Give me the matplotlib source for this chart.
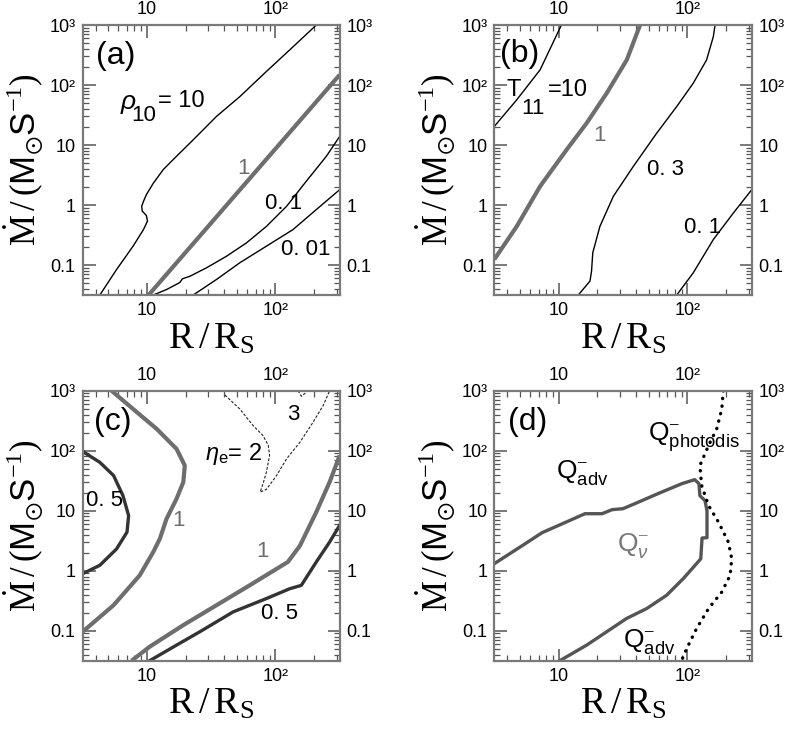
import matplotlib
matplotlib.use("Agg")
import matplotlib.pyplot as plt
from matplotlib.ticker import FixedLocator, FixedFormatter, LogLocator, NullFormatter

plt.rcParams['font.family'] = ['Liberation Sans', 'DejaVu Sans']
plt.rcParams['mathtext.fontset'] = 'custom'
plt.rcParams['mathtext.rm'] = 'Liberation Serif'
plt.rcParams['mathtext.sf'] = 'Liberation Sans'
plt.rcParams['mathtext.it'] = 'Liberation Sans:italic'
plt.rcParams['mathtext.bf'] = 'Liberation Sans:bold'
plt.rcParams['mathtext.fallback'] = 'stix'

# ---------------- data (R/R_S , Mdot) ----------------
XLIM = (10**0.5, 10**2.5)
YLIM = (10**-1.5, 1e3)
xtick_vals = [10, 100]
xtick_labels = ['10', '10²']
ytick_vals = [0.1, 1, 10, 100, 1000]
ytick_labels = ['0.1', '1', '10', '10²', '10³']

# panel (a): density rho_10
a_rho10_x = [4.3, 5.8, 7.8, 9.4, 10.1, 9.9, 9.2, 9.1, 9.4, 9.9, 11.2, 13.4, 17.0, 22.9, 34.8, 52.8, 85, 129, 208]
a_rho10_y = [0.0316, 0.084, 0.206, 0.39, 0.54, 0.67, 0.79, 0.95, 1.15, 1.49, 2.3, 3.9, 6.5, 12.2, 30, 64, 168, 384, 1000]
a_rho1_x = [10.3, 316]
a_rho1_y = [0.0316, 148]
a_rho01_x = [11.2, 14.2, 18.0, 18.9, 21.6, 29.1, 41.6, 59.5, 85, 122, 174, 249, 316]
a_rho01_y = [0.0316, 0.039, 0.051, 0.059, 0.065, 0.090, 0.14, 0.234, 0.44, 0.95, 2.5, 6.5, 13.9]
a_rho001_x = [22.9, 34.8, 52.8, 85, 137, 208, 316]
a_rho001_y = [0.0316, 0.0575, 0.109, 0.206, 0.39, 0.84, 1.8]

# panel (b): temperature T_11
b_T10_x = [3.16, 4.72, 7.17, 10.5]
b_T10_y = [20.4, 56.6, 179, 1000]
b_T1_x = [3.16, 4.72, 7.17, 11.5, 16.5, 23.6, 33.8, 42.9]
b_T1_y = [0.124, 0.44, 2.05, 8.3, 23.2, 73, 262, 1000]
b_T03_x = [14.2, 17.5, 18.0, 18.4, 20.9, 26.6, 38.0, 57.8, 82.6, 111, 141, 159, 164]
b_T03_y = [0.0316, 0.054, 0.079, 0.16, 0.44, 1.4, 4.4, 15.8, 43.8, 107, 262, 640, 1000]
b_T01_x = [82.6, 111, 159, 228, 316]
b_T01_y = [0.0316, 0.074, 0.266, 0.74, 1.8]

# panel (c): degeneracy eta_e
c_eta05u_x = [3.16, 4.3, 5.5, 6.5, 7.2, 7.0, 5.8, 4.3, 3.16]
c_eta05u_y = [97, 64, 38.5, 17.9, 8.3, 4.4, 2.3, 1.23, 0.89]
c_eta1u_x = [5.3, 7.8, 11.9, 17.0, 19.7, 19.2, 17.0, 14.2, 12.6, 11.2, 8.8, 5.5, 3.16]
c_eta1u_y = [1000, 495, 231, 107, 56.6, 30, 15.8, 7.3, 3.4, 2.05, 0.84, 0.266, 0.096]
c_eta1l_x = [7.6, 10.5, 19.2, 34.8, 63, 125, 155, 208, 264, 316]
c_eta1l_y = [0.0316, 0.054, 0.124, 0.266, 0.57, 1.4, 2.6, 9.5, 30, 83]
c_eta05l_x = [10.5, 17.0, 25.8, 46.9, 85, 129, 159, 208, 264, 316]
c_eta05l_y = [0.0316, 0.0575, 0.096, 0.206, 0.343, 0.50, 0.57, 1.4, 3.0, 5.7]
c_eta2_x = [40.4, 52.8, 67, 80, 88, 90, 85, 80, 76, 85, 102, 122, 155, 196, 235, 264]
c_eta2_y = [847, 495, 262, 179, 122, 83, 43.8, 28, 20.4, 22.6, 38.5, 73, 138, 297, 564, 1000]
c_eta3_x = [150, 159, 171, 174]
c_eta3_y = [1000, 805, 915, 1000]

# panel (d): dominant cooling regions
d_region_x = [3.16, 5.19, 7.43, 11.5, 16.0, 21.7, 26.0, 31.6, 39.1, 59, 90.6, 114, 123, 125, 137, 142,
              142, 130, 127, 114, 93, 69, 48.3, 33.7, 23.6, 16.5, 10.2]
d_region_y = [1.31, 2.6, 4.3, 6.5, 8.9, 8.9, 10.4, 10.8, 13.1, 19.2, 28.2, 32.9, 28.2, 17.8, 14.7, 10,
              3.55, 3.5, 1.58, 1.21, 0.74, 0.39, 0.234, 0.16, 0.096, 0.0575, 0.0316]
d_photo_x = [190, 185, 169, 146, 125, 129, 146, 174, 208, 221, 215, 185, 146, 118, 99, 90]
d_photo_y = [1000, 495, 231, 122, 56.6, 26.3, 12.2, 6.5, 3.0, 1.59, 0.84, 0.44, 0.234, 0.109, 0.051, 0.0316]

# ---------------- styling helpers ----------------
THIN = dict(color='black', lw=1.0)
GRAY = dict(color='#6e6e6e', lw=3.0, solid_capstyle='butt')
DARK = dict(color='#333333', lw=2.4)
LBL = 16


def style(ax, letter, lx, ly):
    ax.set_xscale('log')
    ax.set_yscale('log')
    ax.set_xlim(*XLIM)
    ax.set_ylim(*YLIM)
    ax.xaxis.set_major_locator(FixedLocator(xtick_vals))
    ax.xaxis.set_major_formatter(FixedFormatter(xtick_labels))
    ax.yaxis.set_major_locator(FixedLocator(ytick_vals))
    ax.yaxis.set_major_formatter(FixedFormatter(ytick_labels))
    ax.xaxis.set_minor_locator(LogLocator(base=10, subs=range(2, 10)))
    ax.yaxis.set_minor_locator(LogLocator(base=10, subs=range(2, 10)))
    ax.xaxis.set_minor_formatter(NullFormatter())
    ax.yaxis.set_minor_formatter(NullFormatter())
    ax.tick_params(which='both', direction='in', top=True, right=True,
                   labeltop=True, labelright=True, labelsize=13, color='#555555')
    ax.tick_params(which='major', length=9, width=1.1, pad=5)
    ax.tick_params(which='minor', length=4.5, width=0.9)
    for s in ax.spines.values():
        s.set_color('#7a7a7a')
        s.set_linewidth(1.6)
    ax.set_xlabel(r'$\mathrm{R\,/\,R_S}$', fontsize=27, labelpad=1)
    ax.set_ylabel(r'$\dot{\mathrm{M}}\,/\,(\mathsf{M}_{\odot}\mathsf{S}^{-1})$', fontsize=25, labelpad=3)
    ax.text(lx, ly, '(' + letter + ')', transform=ax.transAxes, fontsize=23,
            ha='left', va='center')


fig = plt.figure(figsize=(7.95, 7.29), dpi=100)
axA = fig.add_axes([0.104, 0.5953, 0.3233, 0.3704])
axB = fig.add_axes([0.6218, 0.5953, 0.3238, 0.3704])
axC = fig.add_axes([0.104, 0.0937, 0.3233, 0.3704])
axD = fig.add_axes([0.6218, 0.0937, 0.3238, 0.3704])

# (a)
style(axA, 'a', 0.05, 0.885)
axA.plot(a_rho10_x, a_rho10_y, **THIN)
axA.plot(a_rho1_x, a_rho1_y, **GRAY)
axA.plot(a_rho01_x, a_rho01_y, **THIN)
axA.plot(a_rho001_x, a_rho001_y, **THIN)
axA.text(6.2, 52, 'ρ', fontsize=LBL + 3, style='italic', ha='left', va='center')
axA.text(7.6, 31, '10', fontsize=LBL, ha='left', va='center')
axA.text(12.3, 54, '= 10', fontsize=LBL + 1, ha='left', va='center')
axA.text(56, 4.1, '1', fontsize=LBL, color='#6e6e6e', ha='center', va='center')
axA.text(116, 1.08, '0. 1', fontsize=LBL, ha='center', va='center')
axA.text(171, 0.18, '0. 01', fontsize=LBL, ha='center', va='center')

# (b)
style(axB, 'b', 0.022, 0.893)
axB.plot(b_T10_x, b_T10_y, **THIN)
axB.plot(b_T1_x, b_T1_y, **GRAY)
axB.plot(b_T03_x, b_T03_y, **THIN)
axB.plot(b_T01_x, b_T01_y, **THIN)
axB.text(3.9, 82, 'T', fontsize=LBL + 1, ha='left', va='center')
axB.text(5.15, 41, '11', fontsize=LBL, ha='left', va='center')
axB.text(8.3, 82, '=10', fontsize=LBL + 1, ha='left', va='center')
axB.text(20.9, 14.4, '1', fontsize=LBL, color='#6e6e6e', ha='center', va='center')
axB.text(68, 3.9, '0. 3', fontsize=LBL, ha='center', va='center')
axB.text(131, 0.43, '0. 1', fontsize=LBL, ha='center', va='center')

# (c)
style(axC, 'c', 0.045, 0.885)
axC.plot(c_eta05u_x, c_eta05u_y, **DARK)
axC.plot(c_eta1u_x, c_eta1u_y, **GRAY)
axC.plot(c_eta1l_x, c_eta1l_y, **GRAY)
axC.plot(c_eta05l_x, c_eta05l_y, **DARK)
axC.plot(c_eta2_x, c_eta2_y, color='#222222', lw=0.8, ls=(0, (2.5, 1.5)))
axC.plot(c_eta3_x, c_eta3_y, color='#222222', lw=0.8, ls=(0, (2.5, 1.5)))
axC.text(28.2, 88, r'$\eta_{\mathsf{e}}$= 2', fontsize=LBL + 1, ha='left', va='center')
axC.text(137, 394, '3', fontsize=LBL, ha='center', va='center')
axC.text(4.7, 14.8, '0. 5', fontsize=LBL, ha='center', va='center')
axC.text(17.5, 6.9, '1', fontsize=LBL, color='#6e6e6e', ha='center', va='center')
axC.text(80, 2.1, '1', fontsize=LBL, color='#6e6e6e', ha='center', va='center')
axC.text(107, 0.193, '0. 5', fontsize=LBL, ha='center', va='center')

# (d)
style(axD, 'd', 0.053, 0.885)
axD.plot(d_region_x, d_region_y, color='#555555', lw=2.4)
axD.plot(d_photo_x, d_photo_y, color='black', lw=2.4, ls=(0, (0.1, 2.2)),
         dash_capstyle='round')
QS = 19
axD.text(9.6, 44, r'$\mathsf{Q}^{-}_{\mathsf{adv}}$', fontsize=QS, ha='left', va='center')
axD.text(49.8, 168, r'$\mathsf{Q}^{-}_{\mathsf{photodis}}$', fontsize=QS, ha='left', va='center')
axD.text(28.2, 2.6, r'$\mathsf{Q}^{-}_{\nu}$', fontsize=QS, color='#777777', ha='left', va='center')
axD.text(31.8, 0.065, r'$\mathsf{Q}^{-}_{\mathsf{adv}}$', fontsize=QS, ha='left', va='center')

fig.savefig('out.png', dpi=100)
